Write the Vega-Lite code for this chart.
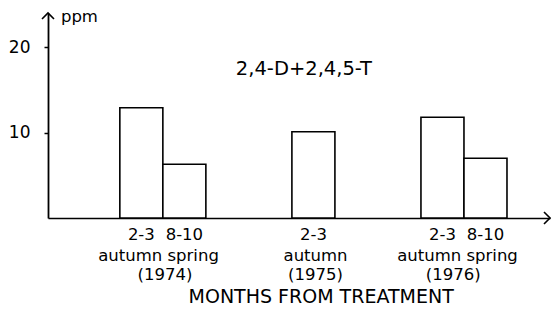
{
  "$schema": "https://vega.github.io/schema/vega-lite/v6.json",
  "autosize": {"type": "none"},
  "padding": {"left": 48, "top": 13, "right": 5, "bottom": 91},
  "width": 502,
  "height": 205,
  "background": "white",
  "config": {"view": {"stroke": null}, "font": "DejaVu Sans"},
  "datasets": {
    "bars": [
      {"start": 0, "end": 1, "ppm": 12.9, "year": "1974", "period": "2-3 autumn"},
      {"start": 1, "end": 2, "ppm": 6.3, "year": "1974", "period": "8-10 spring"},
      {"start": 4, "end": 5, "ppm": 10.1, "year": "1975", "period": "2-3 autumn"},
      {"start": 7, "end": 8, "ppm": 11.8, "year": "1976", "period": "2-3 autumn"},
      {"start": 8, "end": 9, "ppm": 7.0, "year": "1976", "period": "8-10 spring"}
    ],
    "labels": [
      {"x": 0.5, "y": -2.58, "text": "2-3", "role": "cat"},
      {"x": 1.5, "y": -2.58, "text": "8-10", "role": "cat"},
      {"x": 4.5, "y": -2.58, "text": "2-3", "role": "cat"},
      {"x": 7.5, "y": -2.58, "text": "2-3", "role": "cat"},
      {"x": 8.5, "y": -2.58, "text": "8-10", "role": "cat"},
      {"x": 0.9, "y": -5.03, "text": "autumn spring", "role": "cat"},
      {"x": 4.55, "y": -5.03, "text": "autumn", "role": "cat"},
      {"x": 7.85, "y": -5.03, "text": "autumn spring", "role": "cat"},
      {"x": 1.05, "y": -7.26, "text": "(1974)", "role": "cat"},
      {"x": 4.55, "y": -7.26, "text": "(1975)", "role": "cat"},
      {"x": 7.75, "y": -7.26, "text": "(1976)", "role": "cat"},
      {"x": 4.68, "y": -10.0, "text": "MONTHS FROM TREATMENT", "role": "xtitle"},
      {"x": 4.28, "y": 16.74, "text": "2,4-D+2,4,5-T", "role": "title"},
      {"x": -1.37, "y": 22.95, "text": "ppm", "role": "unit"}
    ],
    "arrows": [
      {"x": -1.67, "y": 24, "dir": "up"},
      {"x": 10, "y": 0, "dir": "right"}
    ]
  },
  "layer": [
    {
      "data": {"name": "bars"},
      "mark": {"type": "bar", "fill": "white", "stroke": "black", "strokeWidth": 1.6},
      "encoding": {
        "x": {
          "field": "start", "type": "quantitative",
          "scale": {"domain": [-1.67, 10], "nice": false, "zero": false},
          "axis": {"title": null, "labels": false, "ticks": false, "grid": false, "domainColor": "black", "domainWidth": 1.6}
        },
        "x2": {"field": "end"},
        "y": {
          "field": "ppm", "type": "quantitative",
          "scale": {"domain": [0, 24], "nice": false},
          "axis": {"title": null, "values": [10, 20], "grid": false, "domainColor": "black", "domainWidth": 1.8, "tickColor": "black", "tickSize": 4, "tickWidth": 1.5, "labelPadding": 14, "labelFontSize": 17, "labelColor": "black", "labelFont": "DejaVu Sans"}
        },
        "y2": {"datum": 0}
      }
    },
    {
      "data": {"name": "labels"},
      "transform": [{"filter": "datum.role === 'cat'"}],
      "mark": {"type": "text", "fontSize": 16.5, "align": "center", "baseline": "alphabetic", "color": "black"},
      "encoding": {
        "x": {"field": "x", "type": "quantitative"},
        "y": {"field": "y", "type": "quantitative"},
        "text": {"field": "text"}
      }
    },
    {
      "data": {"name": "labels"},
      "transform": [{"filter": "datum.role === 'xtitle'"}],
      "mark": {"type": "text", "fontSize": 19, "align": "center", "baseline": "alphabetic", "color": "black"},
      "encoding": {
        "x": {"field": "x", "type": "quantitative"},
        "y": {"field": "y", "type": "quantitative"},
        "text": {"field": "text"}
      }
    },
    {
      "data": {"name": "labels"},
      "transform": [{"filter": "datum.role === 'title'"}],
      "mark": {"type": "text", "fontSize": 19.5, "align": "center", "baseline": "alphabetic", "color": "black"},
      "encoding": {
        "x": {"field": "x", "type": "quantitative"},
        "y": {"field": "y", "type": "quantitative"},
        "text": {"field": "text"}
      }
    },
    {
      "data": {"name": "labels"},
      "transform": [{"filter": "datum.role === 'unit'"}],
      "mark": {"type": "text", "fontSize": 16.5, "align": "left", "baseline": "alphabetic", "color": "black"},
      "encoding": {
        "x": {"field": "x", "type": "quantitative"},
        "y": {"field": "y", "type": "quantitative"},
        "text": {"field": "text"}
      }
    },
    {
      "data": {"name": "arrows"},
      "transform": [{"filter": "datum.dir === 'up'"}],
      "mark": {"type": "point", "shape": "M-1,1L0,0L1,1", "size": 144, "filled": false, "stroke": "black", "strokeWidth": 1.6, "opacity": 1},
      "encoding": {
        "x": {"field": "x", "type": "quantitative"},
        "y": {"field": "y", "type": "quantitative"}
      }
    },
    {
      "data": {"name": "arrows"},
      "transform": [{"filter": "datum.dir === 'right'"}],
      "mark": {"type": "point", "shape": "M-1,-1L0,0L-1,1", "size": 144, "filled": false, "stroke": "black", "strokeWidth": 1.6, "opacity": 1},
      "encoding": {
        "x": {"field": "x", "type": "quantitative"},
        "y": {"field": "y", "type": "quantitative"}
      }
    }
  ]
}
